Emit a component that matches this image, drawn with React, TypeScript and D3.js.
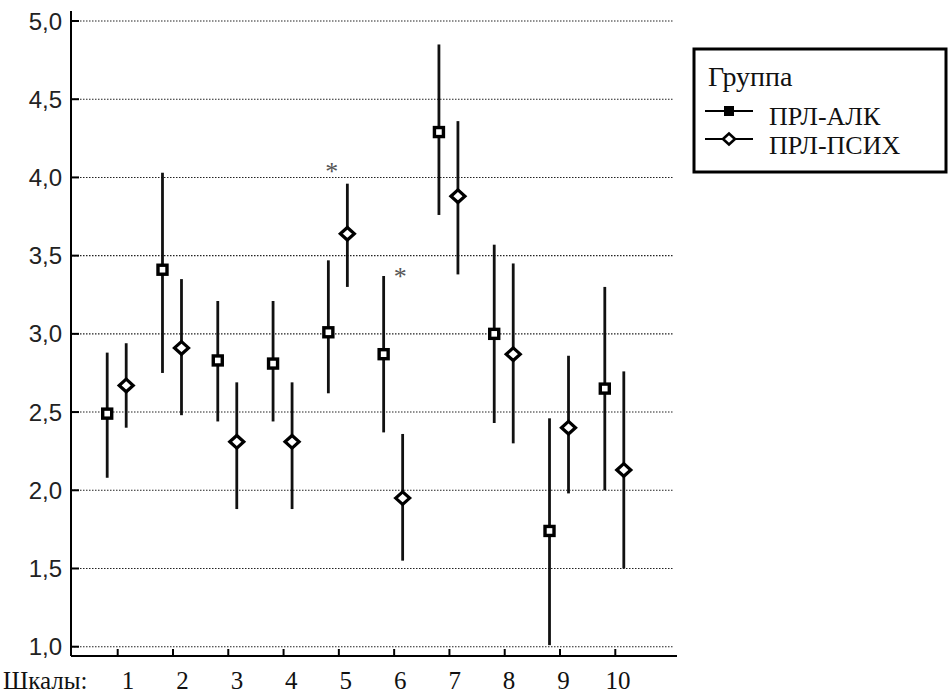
import * as d3 from "d3";

// Шкалы 1..10
const scales = [1, 2, 3, 4, 5, 6, 7, 8, 9, 10];
const yTicks = [1.0, 1.5, 2.0, 2.5, 3.0, 3.5, 4.0, 4.5, 5.0];

// ПРЛ-АЛК: mean and interval bounds
const alkMean = [2.49, 3.41, 2.83, 2.81, 3.01, 2.87, 4.29, 3.0, 1.74, 2.65];
const alkUpper = [2.88, 4.03, 3.21, 3.21, 3.47, 3.37, 4.85, 3.57, 2.46, 3.3];
const alkLower = [2.08, 2.75, 2.44, 2.44, 2.62, 2.37, 3.76, 2.43, 1.01, 2.0];

// ПРЛ-ПСИХ
const psyMean = [2.67, 2.91, 2.31, 2.31, 3.64, 1.95, 3.88, 2.87, 2.4, 2.13];
const psyUpper = [2.94, 3.35, 2.69, 2.69, 3.96, 2.36, 4.36, 3.45, 2.86, 2.76];
const psyLower = [2.4, 2.48, 1.88, 1.88, 3.3, 1.55, 3.38, 2.3, 1.98, 1.5];

// significance marks
const starScales = [5, 6];
const starValues = [4.07, 3.4];

const serif =
  '"Liberation Serif", "Times New Roman", Times, Tinos, "DejaVu Serif", "Noto Serif", FreeSerif, serif';
const sans = '"Liberation Sans", Arial, sans-serif';

function Diamond({ x, y, r, sw }: { x: number; y: number; r: number; sw: number }) {
  const ry = r * 0.9;
  return (
    <path
      d={`M${x - r},${y}L${x},${y - ry}L${x + r},${y}L${x},${y + ry}Z`}
      fill="#fff"
      stroke="#000"
      strokeWidth={sw}
    />
  );
}

export default function App() {
  const width = 949;
  const height = 695;
  const axisX = 71;
  const axisY = 656;
  const axisRight = 677;

  const x = d3.scalePoint<number>().domain(scales).range([117.7, 615.3]);
  const labelX = d3.scalePoint<number>().domain(scales).range([128, 618]);
  const y = d3.scaleLinear().domain([1, 5]).range([646.7, 21]);

  const alkDx = -10.5;
  const psyDx = 8.5;

  return (
    <svg
      width={width}
      height={height}
      style={{ position: "absolute", left: 0, top: 0, background: "#fff" }}
    >
      {/* grid */}
      {yTicks.map((t) => (
        <g key={t}>
          <line
            x1={axisX}
            x2={673}
            y1={y(t)}
            y2={y(t)}
            stroke="#222"
            strokeWidth={1.1}
            strokeDasharray="1.5,1.5"
          />
          <line x1={axisX} x2={axisX + 8} y1={y(t)} y2={y(t)} stroke="#000" strokeWidth={2} />
          <text
            x={62}
            y={y(t)}
            dy="0.36em"
            textAnchor="end"
            style={{ fontFamily: sans, fontSize: 24 }}
            fill="#222"
          >
            {d3.format(".1f")(t).replace(".", ",")}
          </text>
        </g>
      ))}

      {/* axes */}
      <line x1={axisX} x2={axisX} y1={11} y2={axisY} stroke="#000" strokeWidth={2} />
      <line x1={axisX} x2={axisRight} y1={axisY} y2={axisY} stroke="#000" strokeWidth={2} />
      {scales.map((s) => (
        <g key={s}>
          <line x1={x(s)} x2={x(s)} y1={axisY} y2={axisY - 7} stroke="#000" strokeWidth={2} />
          <text
            x={labelX(s)}
            y={689}
            textAnchor="middle"
            style={{ fontFamily: serif, fontSize: 25 }}
            fill="#111"
          >
            {s}
          </text>
        </g>
      ))}
      <text x={3} y={689} style={{ fontFamily: serif, fontSize: 25 }} fill="#111">
        Шкалы:
      </text>

      {/* error bars */}
      {scales.map((s, i) => (
        <g key={s}>
          <line
            x1={x(s)! + alkDx}
            x2={x(s)! + alkDx}
            y1={y(alkUpper[i])}
            y2={y(alkLower[i])}
            stroke="#111"
            strokeWidth={2.8}
          />
          <rect
            x={x(s)! + alkDx - 4.5}
            y={y(alkMean[i]) - 4.5}
            width={9}
            height={9}
            fill="#fff"
            stroke="#000"
            strokeWidth={3.4}
          />
          <line
            x1={x(s)! + psyDx}
            x2={x(s)! + psyDx}
            y1={y(psyUpper[i])}
            y2={y(psyLower[i])}
            stroke="#111"
            strokeWidth={2.8}
          />
          <Diamond x={x(s)! + psyDx} y={y(psyMean[i])} r={7} sw={3.2} />
        </g>
      ))}

      {/* asterisks */}
      {starScales.map((s, i) => (
        <text
          key={s}
          x={x(s)! + (i === 0 ? -7 : 6)}
          y={y(starValues[i]) + 14}
          textAnchor="middle"
          style={{ fontFamily: serif, fontSize: 26 }}
          fill="#555"
        >
          *
        </text>
      ))}

      {/* legend */}
      <g>
        <rect x={694} y={49} width={252} height={123} fill="#fff" stroke="#000" strokeWidth={3} />
        <text x={708} y={86} style={{ fontFamily: serif, fontSize: 28 }} fill="#111">
          Группа
        </text>
        <line x1={705} x2={753} y1={111} y2={111} stroke="#000" strokeWidth={2} />
        <rect x={724} y={106} width={10} height={10} fill="#000" />
        <text x={769} y={125} style={{ fontFamily: serif, fontSize: 26 }} fill="#111">
          ПРЛ-АЛК
        </text>
        <line x1={705} x2={753} y1={139} y2={139} stroke="#000" strokeWidth={2} />
        <Diamond x={729} y={139} r={6} sw={2.6} />
        <text x={769} y={154} style={{ fontFamily: serif, fontSize: 26 }} fill="#111">
          ПРЛ-ПСИХ
        </text>
      </g>
    </svg>
  );
}
